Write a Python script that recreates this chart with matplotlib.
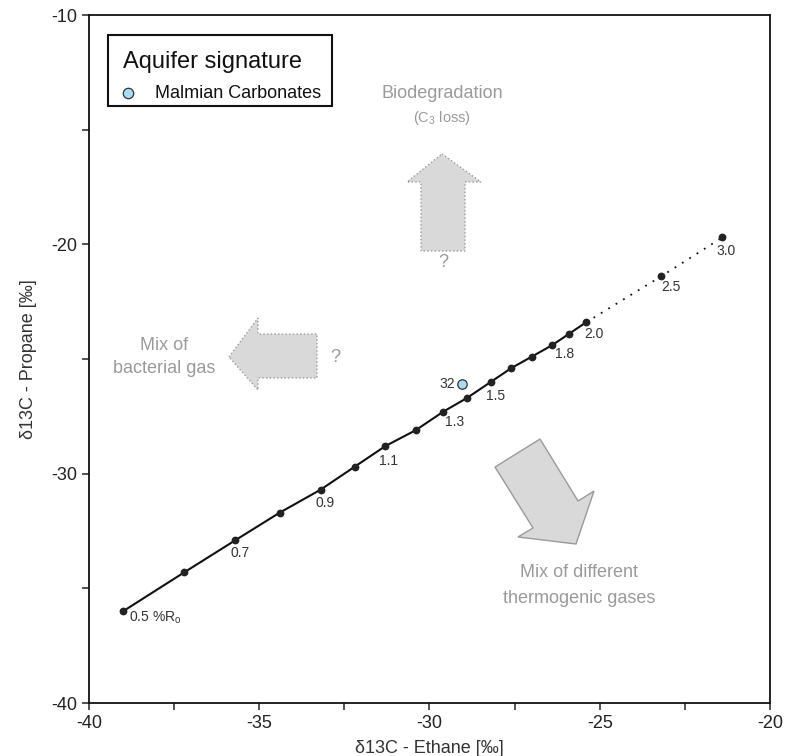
import matplotlib
matplotlib.use("Agg")
import matplotlib.pyplot as plt
from matplotlib.patches import Polygon
from matplotlib.ticker import MultipleLocator

plt.rcParams["font.family"] = ["Liberation Sans", "DejaVu Sans"]
plt.rcParams["axes.unicode_minus"] = False

# Maturity trend (vitrinite reflectance, %Ro) for ethane / propane carbon isotopes
ro_solid = [0.5, 0.6, 0.7, 0.8, 0.9, 1.0, 1.1, 1.2, 1.3, 1.4, 1.5, 1.6, 1.7, 1.8, 1.9, 2.0]
ethane_solid = [-39.0, -37.2, -35.7, -34.4, -33.2, -32.2, -31.3, -30.4, -29.6, -28.9,
                -28.2, -27.6, -27.0, -26.4, -25.9, -25.4]
propane_solid = [-36.0, -34.3, -32.9, -31.7, -30.7, -29.7, -28.8, -28.1, -27.3, -26.7,
                 -26.0, -25.4, -24.9, -24.4, -23.9, -23.4]

ro_ext = [2.0, 2.5, 3.0]
ethane_ext = [-25.4, -23.2, -21.4]
propane_ext = [-23.4, -21.4, -19.7]

labelled_ro = [0.5, 0.7, 0.9, 1.1, 1.3, 1.5, 1.8, 2.0, 2.5, 3.0]
labelled_text = ["0.5 %R$_\\mathregular{o}$", "0.7", "0.9", "1.1", "1.3", "1.5", "1.8",
                 "2.0", "2.5", "3.0"]

# Aquifer sample
sample_ids = ["32"]
sample_ethane = [-29.05]
sample_propane = [-26.1]

x_ticks = [-40, -35, -30, -25, -20]
y_ticks = [-40, -30, -20, -10]

# label placement relative to each marker (points)
label_offsets = {0.5: (4, -5), 0.7: (3.1, -9.1), 0.9: (3.6, -9.6), 1.1: (2.4, -10.8),
                 1.3: (8.4, -7.7), 1.5: (3.1, -10.3), 1.8: (9.1, -6.3), 2.0: (5.3, -8.1),
                 2.5: (7.2, -7.4), 3.0: (2.4, -10.1)}

fig = plt.figure(figsize=(7.85, 7.56), dpi=100)
ax = fig.add_axes([89 / 785, 1 - 703 / 756, 681 / 785, 688 / 756])

ax.set_xlim(-40, -20)
ax.set_ylim(-40, -10)
ax.set_xticks(x_ticks)
ax.set_yticks(y_ticks)
ax.xaxis.set_minor_locator(MultipleLocator(2.5))
ax.yaxis.set_minor_locator(MultipleLocator(5))
ax.tick_params(which="both", direction="out", length=5, width=1.1, color="#222222",
               labelsize=13, labelcolor="#222222", top=False, right=False)
for s in ax.spines.values():
    s.set_linewidth(1.3)
    s.set_color("#111111")

ax.set_xlabel("δ13C - Ethane [‰]", fontsize=13, color="#333333", labelpad=6)
ax.set_ylabel("δ13C - Propane [‰]", fontsize=13, color="#333333", labelpad=10)

# Trend line
ax.plot(ethane_ext, propane_ext, color="#111111", lw=1.3, ls=(0, (1, 3.8)), zorder=3)
ax.plot(ethane_solid, propane_solid, color="#111111", lw=1.5, zorder=3)
ax.plot(ethane_solid, propane_solid, ls="none", marker="o", ms=4.6, color="#222222", zorder=4)
ax.plot(ethane_ext[1:], propane_ext[1:], ls="none", marker="o", ms=4.6, color="#222222",
        zorder=4)

all_ro = ro_solid + ro_ext[1:]
all_eth = ethane_solid + ethane_ext[1:]
all_pro = propane_solid + propane_ext[1:]
for r, t in zip(labelled_ro, labelled_text):
    i = all_ro.index(r)
    ax.annotate(t, (all_eth[i], all_pro[i]), xytext=label_offsets[r],
                textcoords="offset points", ha="left" if r == 0.5 else "center",
                va="center", fontsize=10, color="#333333")

# Sample
ax.plot(sample_ethane, sample_propane, ls="none", marker="o", ms=6.8,
        markerfacecolor="#a9dcf3", markeredgecolor="#333333", markeredgewidth=0.9, zorder=5)
for sid, xe, yp in zip(sample_ids, sample_ethane, sample_propane):
    ax.annotate(sid, (xe, yp), xytext=(-5, 0), textcoords="offset points",
                ha="right", va="center", fontsize=10, color="#333333")

# Process arrows
grey_txt = "#9a9a9a"
fill = "#d9d9d9"
edge = "#9a9a9a"
up_arrow = [(0.5184, 0.7980), (0.5756, 0.7573), (0.5521, 0.7573), (0.5521, 0.6570),
            (0.4875, 0.6570), (0.4875, 0.7573), (0.4670, 0.7573)]
left_arrow = [(0.2056, 0.5029), (0.2482, 0.5596), (0.2482, 0.5363), (0.3348, 0.5363),
              (0.3348, 0.4724), (0.2482, 0.4724), (0.2482, 0.4549)]
diag_arrow = [(0.5962, 0.3430), (0.6623, 0.3837), (0.7181, 0.2936), (0.7416, 0.3081),
              (0.7151, 0.2311), (0.6300, 0.2413), (0.6520, 0.2544)]
for verts, style in [(up_arrow, ":"), (left_arrow, ":"), (diag_arrow, "-")]:
    ax.add_patch(Polygon(verts, closed=True, transform=ax.transAxes, facecolor=fill,
                         edgecolor=edge, lw=1.0, ls=style, zorder=2))

ax.text(0.5184, 0.8866, "Biodegradation", transform=ax.transAxes, ha="center", va="center",
        fontsize=13, color=grey_txt)
ax.text(0.5184, 0.8503, "(C$_\\mathregular{3}$ loss)", transform=ax.transAxes, ha="center",
        va="center", fontsize=10.5, color=grey_txt)
ax.text(0.5198, 0.640, "?", transform=ax.transAxes, ha="center", va="center",
        fontsize=13, color=grey_txt)
ax.text(0.3612, 0.5029, "?", transform=ax.transAxes, ha="center", va="center",
        fontsize=13, color=grey_txt)
ax.text(0.110, 0.5203, "Mix of", transform=ax.transAxes, ha="center", va="center",
        fontsize=13, color=grey_txt)
ax.text(0.110, 0.4869, "bacterial gas", transform=ax.transAxes, ha="center", va="center",
        fontsize=13, color=grey_txt)
ax.text(0.7195, 0.189, "Mix of different", transform=ax.transAxes, ha="center", va="center",
        fontsize=13, color=grey_txt)
ax.text(0.7195, 0.152, "thermogenic gases", transform=ax.transAxes, ha="center", va="center",
        fontsize=13, color=grey_txt)

# Legend box
lx0, ly0, lw, lh = (108 - 89) / 681, (703 - 106) / 688, (332 - 108) / 681, (106 - 35) / 688
ax.add_patch(plt.Rectangle((lx0, ly0), lw, lh, transform=ax.transAxes, facecolor="white",
                           edgecolor="#111111", lw=1.5, zorder=6))
ax.text((123 - 89) / 681, (703 - 62) / 688, "Aquifer signature", transform=ax.transAxes,
        ha="left", va="center", fontsize=17, color="#111111", zorder=7)
ax.plot([(128 - 89) / 681], [(703 - 93) / 688], transform=ax.transAxes, ls="none",
        marker="o", ms=7.5, markerfacecolor="#a9dcf3", markeredgecolor="#333333",
        markeredgewidth=0.9, zorder=7, clip_on=False)
ax.text((155 - 89) / 681, (703 - 93) / 688, "Malmian Carbonates", transform=ax.transAxes,
        ha="left", va="center", fontsize=13, color="#111111", zorder=7)

fig.savefig("out.png", dpi=100)
